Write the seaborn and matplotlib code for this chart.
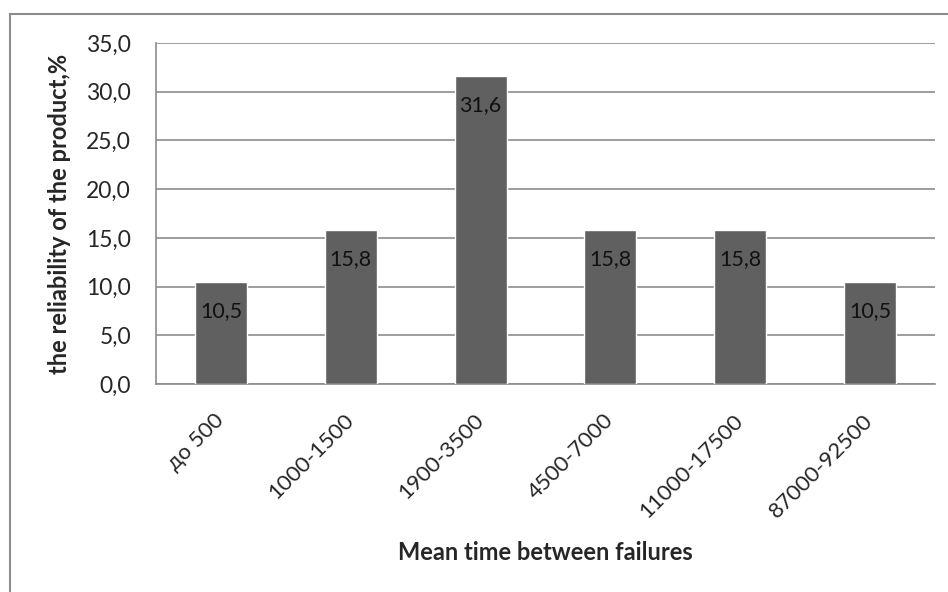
import matplotlib
matplotlib.use("Agg")
import matplotlib.pyplot as plt
import seaborn as sns
import pandas as pd
from matplotlib.patches import Rectangle

categories = ["до 500", "1000-1500", "1900-3500", "4500-7000", "11000-17500", "87000-92500"]
values = [10.5, 15.8, 31.6, 15.8, 15.8, 10.5]
y_ticks = [0, 5, 10, 15, 20, 25, 30, 35]

sns.set_theme(style="white")
plt.rcParams["font.family"] = ["Lato", "DejaVu Sans"]

W, H = 948, 592
fig = plt.figure(figsize=(W / 100, H / 100), dpi=100)
fig.patch.set_facecolor("white")

# chart frame
fig.add_artist(Rectangle((9.5 / W, -0.1), 1.2, (H - 13.5) / H + 0.1,
                         transform=fig.transFigure, fill=False,
                         edgecolor="#8c8c8c", linewidth=1.5))

left, right, top, bottom = 156, 935, 43, 384
ax = fig.add_axes([left / W, (H - bottom) / H, (right - left) / W, (bottom - top) / H])

df = pd.DataFrame({"interval": categories, "share": values})
sns.barplot(data=df, x="interval", y="share", color="#606060", width=0.4,
            saturation=1, ax=ax, zorder=3)

ax.set_ylim(0, 35)
ax.set_yticks(y_ticks)
ax.set_yticklabels([f"{v:.1f}".replace(".", ",") for v in y_ticks], fontsize=16.5)
ax.yaxis.grid(True, color="#8c8c8c", linewidth=1.2, zorder=0)
ax.set_axisbelow(True)
ax.tick_params(axis="y", length=0, pad=18)
ax.tick_params(axis="x", length=0, pad=24)

for lbl in ax.get_xticklabels():
    lbl.set_rotation(45)
    lbl.set_ha("right")
    lbl.set_va("center")
    lbl.set_rotation_mode("anchor")
    lbl.set_fontsize(16)

for s in ["top", "right"]:
    ax.spines[s].set_visible(False)
for s in ["left", "bottom"]:
    ax.spines[s].set_color("#8c8c8c")
    ax.spines[s].set_linewidth(1.2)

for i, v in enumerate(values):
    ax.annotate(f"{v:.1f}".replace(".", ","), (i, v), xytext=(0, -21),
                textcoords="offset points", ha="center", va="center",
                fontsize=15.5, color="#111111", zorder=4)

ax.set_xlabel("Mean time between failures", fontsize=17, fontweight="bold", labelpad=0)
ax.xaxis.set_label_coords(0.5, -(552 - bottom) / (bottom - top))
ax.set_ylabel("the reliability of the product,%", fontsize=17, fontweight="bold")
ax.yaxis.set_label_coords(-(left - 60) / (right - left), 0.5)
ax.xaxis.label.set_va("center")
ax.yaxis.label.set_va("center")

fig.savefig("out.png", dpi=100, facecolor="white")
